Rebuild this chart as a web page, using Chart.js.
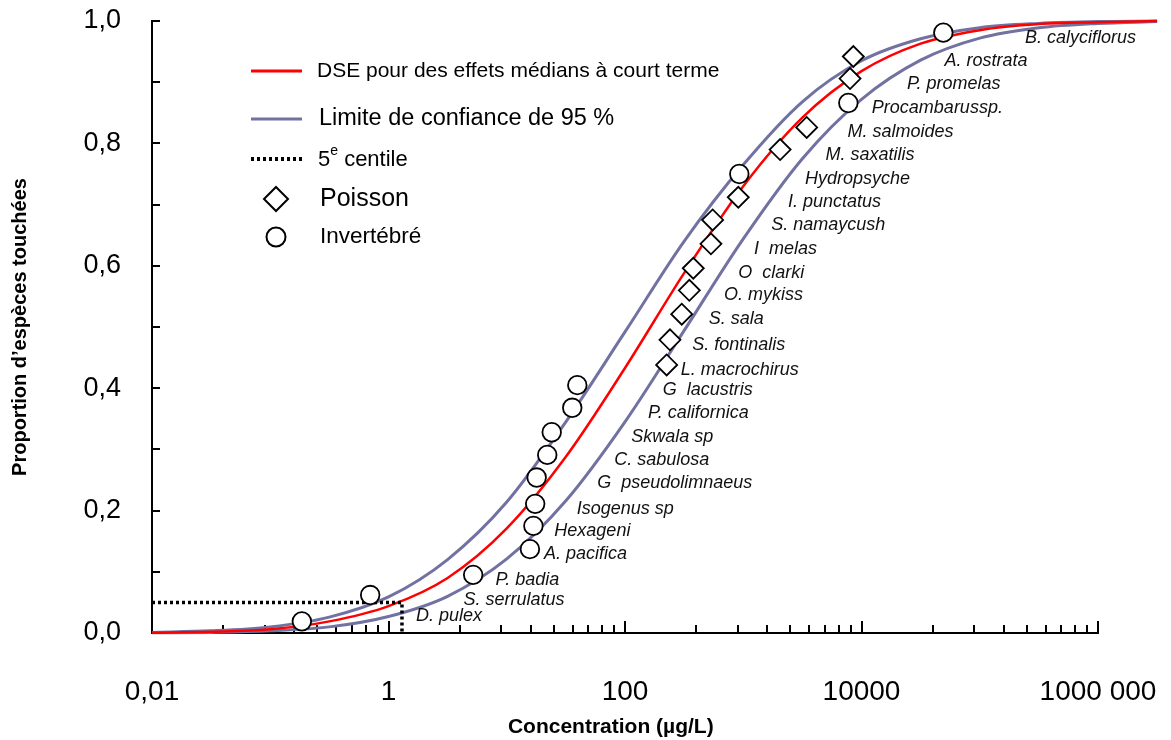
<!DOCTYPE html>
<html>
<head>
<meta charset="utf-8">
<script src="https://cdn.jsdelivr.net/npm/chart.js@4.4.0/dist/chart.umd.min.js"></script>
<style>
    html, body { margin: 0; padding: 0; background: #fff; }
    #wrap { width: 1171px; height: 740px; }
</style>
</head>
<body>
<div id="wrap"><canvas id="ssdChart" width="1171" height="740"></canvas></div>
<script>
// Fitted curves, read every half decade (ug/L)
const curveConc = [0.01, 0.0316, 0.1, 0.316, 1, 3.16, 10, 31.6, 100, 316, 1000, 3160, 10000, 31600, 100000, 316000, 1000000, 3160000];
const medianProp = [0.0005, 0.002, 0.006, 0.019, 0.044, 0.090, 0.171, 0.288, 0.433, 0.588, 0.730, 0.842, 0.918, 0.963, 0.985, 0.995, 0.998, 1.0];
const upperProp = [0.001, 0.0035, 0.010, 0.026, 0.059, 0.120, 0.214, 0.345, 0.492, 0.640, 0.765, 0.868, 0.935, 0.971, 0.989, 0.996, 0.999, 1.0];
const lowerProp = [0.0003, 0.001, 0.0035, 0.010, 0.027, 0.060, 0.121, 0.216, 0.345, 0.494, 0.644, 0.775, 0.872, 0.936, 0.972, 0.989, 0.996, 0.999];

// 5th percentile
const hc5Conc = 1.3;
const hc5Prop = 0.05;

// Species toxicity values
const speciesNames = ['D. pulex', 'S. serrulatus', 'P. badia', 'A. pacifica', 'Hexageni', 'Isogenus sp', 'G  pseudolimnaeus',
    'C. sabulosa', 'Skwala sp', 'P. californica', 'G  lacustris', 'L. macrochirus', 'S. fontinalis', 'S. sala', 'O. mykiss',
    'O  clarki', 'I  melas', 'S. namaycush', 'I. punctatus', 'Hydropsyche', 'M. saxatilis', 'M. salmoides', 'Procambarussp.',
    'P. promelas', 'A. rostrata', 'B. calyciflorus'];
const speciesConc = [0.185, 0.70, 5.2, 15.7, 16.8, 17.4, 17.9, 22, 24, 35.8, 39.5, 225, 240, 302, 350, 378, 533, 551, 908, 926, 2050, 3440, 7740, 8000, 8530, 49200];
const speciesProp = [0.019, 0.062, 0.095, 0.137, 0.175, 0.211, 0.254, 0.291, 0.328, 0.368, 0.405, 0.438, 0.479, 0.521, 0.560, 0.596, 0.636, 0.675, 0.712, 0.750, 0.790, 0.826, 0.866, 0.906, 0.942, 0.981];
const speciesGroup = ['I', 'I', 'I', 'I', 'I', 'I', 'I', 'I', 'I', 'I', 'I', 'F', 'F', 'F', 'F', 'F', 'F', 'F', 'F', 'I', 'F', 'F', 'I', 'F', 'F', 'I'];

// Axis ticks
const xTickValues = [0.01, 1, 100, 10000, 1000000];
const xTickLabels = ['0,01', '1', '100', '10000', '1000 000'];
const yTickValues = [0, 0.1, 0.2, 0.3, 0.4, 0.5, 0.6, 0.7, 0.8, 0.9, 1.0];

const RED = '#ff0000';
const BLUE = '#7171a2';
const FONT = "'Liberation Sans', Arial, sans-serif";

const toXY = (xs, ys) => xs.map((x, i) => ({ x: x, y: ys[i] }));
const pickGroup = g => speciesConc.map((c, i) => ({ x: c, y: speciesProp[i], g: speciesGroup[i] })).filter(p => p.g === g);

// Excel-style minor marks: k^2 steps inside each 100x major interval
function xTicks() {
    const out = [];
    xTickValues.forEach((m, i) => {
        out.push({ value: m });
        if (i < xTickValues.length - 1) for (let k = 2; k <= 9; k++) out.push({ value: m * k * k });
    });
    return out;
}

const LOWER_IDX = 4;

const extras = {
    id: 'extras',
    beforeDatasetsDraw(chart) {
        const { ctx, chartArea: a, scales: { x, y } } = chart;
        ctx.save();
        ctx.strokeStyle = '#000';
        ctx.lineWidth = 2;
        x.ticks.forEach(t => {
            const px = Math.round(x.getPixelForValue(t.value));
            const len = xTickValues.includes(t.value) ? 12 : 8;
            ctx.beginPath(); ctx.moveTo(px, a.bottom); ctx.lineTo(px, a.bottom - len); ctx.stroke();
        });
        y.ticks.forEach(t => {
            const py = Math.round(y.getPixelForValue(t.value));
            ctx.beginPath(); ctx.moveTo(a.left, py); ctx.lineTo(a.left + 8, py); ctx.stroke();
        });
        ctx.restore();
    },
    afterDraw(chart) {
        const { ctx, chartArea: a, scales: { x, y } } = chart;
        const lower = chart.getDatasetMeta(LOWER_IDX).data;
        const hc5Px = x.getPixelForValue(hc5Conc);

        // px of the lower limit curve at a given pixel height
        const lowerAt = py => {
            for (let i = 1; i < lower.length; i++) {
                const p0 = lower[i - 1], p1 = lower[i];
                if (p0.y >= py && p1.y <= py) {
                    const f = (p0.y - py) / (p0.y - p1.y || 1);
                    return p0.x + f * (p1.x - p0.x);
                }
            }
            return lower[lower.length - 1].x;
        };

        // species names, stacked just right of the lower limit
        ctx.save();
        ctx.fillStyle = '#111';
        ctx.font = 'italic 18px ' + FONT;
        ctx.textBaseline = 'middle';
        speciesNames.forEach((name, i) => {
            const py = y.getPixelForValue(speciesProp[i]);
            const px = x.getPixelForValue(speciesConc[i]);
            let lx = Math.max(px, lowerAt(py)) + 14;
            if (i === 0) lx = Math.max(lx, hc5Px + 14);
            const ly = Math.min(py + 5, a.bottom - 17);   // keep clear of the tick marks
            ctx.fillText(name, lx, ly);
        });
        ctx.restore();

        // x axis title
        ctx.save();
        ctx.fillStyle = '#000';
        ctx.font = 'bold 21px ' + FONT;
        ctx.textAlign = 'center';
        ctx.textBaseline = 'middle';
        ctx.fillText('Concentration (µg/L)', a.left + (a.right - a.left) * 0.485, 727);
        ctx.restore();

        // legend
        ctx.save();
        ctx.textBaseline = 'middle';
        ctx.fillStyle = '#000';
        const l0 = 251, l1 = 302;
        const line = (yy, color, w, dash) => {
            ctx.beginPath();
            ctx.setLineDash(dash || []);
            ctx.strokeStyle = color; ctx.lineWidth = w;
            ctx.moveTo(l0, yy); ctx.lineTo(l1, yy); ctx.stroke();
            ctx.setLineDash([]);
        };
        line(71, RED, 3);
        ctx.font = '21px ' + FONT;
        ctx.fillText('DSE pour des effets médians à court terme', 317, 71);

        line(119, BLUE, 3);
        ctx.font = '23.5px ' + FONT;
        ctx.fillText('Limite de confiance de 95 %', 319, 119);

        line(159, '#000', 4, [3, 3]);
        ctx.font = '22px ' + FONT;
        ctx.fillText('5', 318, 160);
        const w5 = ctx.measureText('5').width;
        ctx.font = '14px ' + FONT;
        ctx.fillText('e', 318 + w5, 151);
        const we = ctx.measureText('e').width;
        ctx.font = '22px ' + FONT;
        ctx.fillText(' centile', 318 + w5 + we, 160);

        // markers
        ctx.lineWidth = 2;
        ctx.strokeStyle = '#000';
        ctx.fillStyle = '#fff';
        ctx.beginPath();
        ctx.moveTo(276, 187); ctx.lineTo(288, 199); ctx.lineTo(276, 211); ctx.lineTo(264, 199); ctx.closePath();
        ctx.fill(); ctx.stroke();
        ctx.beginPath();
        ctx.arc(276, 237, 9.5, 0, Math.PI * 2);
        ctx.fill(); ctx.stroke();

        ctx.fillStyle = '#000';
        ctx.font = '25px ' + FONT;
        ctx.fillText('Poisson', 320, 199);
        ctx.font = '22.5px ' + FONT;
        ctx.fillText('Invertébré', 320, 237);
        ctx.restore();
    }
};

const ctx = document.getElementById('ssdChart').getContext('2d');
new Chart(ctx, {
    type: 'line',
    data: {
        datasets: [
            {
                label: 'Poisson', data: pickGroup('F'), showLine: false, order: 0,
                pointStyle: 'rectRot', pointRadius: 10.5, pointBackgroundColor: '#fff', pointBorderColor: '#000', pointBorderWidth: 1.8, clip: false
            },
            {
                label: 'Invertébré', data: pickGroup('I'), showLine: false, order: 0,
                pointStyle: 'circle', pointRadius: 9.3, pointBackgroundColor: '#fff', pointBorderColor: '#000', pointBorderWidth: 1.8, clip: false
            },
            {
                label: '5e centile', data: [{ x: xTickValues[0], y: hc5Prop }, { x: hc5Conc, y: hc5Prop }, { x: hc5Conc, y: 0 }], order: 1,
                borderColor: '#000', borderWidth: 3.5, borderDash: [3, 3], pointRadius: 0, tension: 0
            },
            {
                label: 'DSE', data: toXY(curveConc, medianProp), order: 2, clip: false,
                borderColor: RED, borderWidth: 2.5, pointRadius: 0, cubicInterpolationMode: 'monotone'
            },
            {
                label: 'Limite inf', data: toXY(curveConc, lowerProp), order: 3, clip: false,
                borderColor: BLUE, borderWidth: 3, pointRadius: 0, cubicInterpolationMode: 'monotone'
            },
            {
                label: 'Limite sup', data: toXY(curveConc, upperProp), order: 3, clip: false,
                borderColor: BLUE, borderWidth: 3, pointRadius: 0, cubicInterpolationMode: 'monotone'
            }
        ]
    },
    options: {
        responsive: false,
        animation: false,
        layout: { padding: { top: 21, right: 73, left: 0, bottom: 0 } },
        plugins: { legend: { display: false }, tooltip: { enabled: false } },
        scales: {
            x: {
                type: 'logarithmic', bounds: 'data',
                // axis range set here (not via min/max) so the curves can run past the last tick like the original
                afterDataLimits: axis => { axis.min = xTickValues[0]; axis.max = xTickValues[xTickValues.length - 1]; },
                afterBuildTicks: axis => { axis.ticks = xTicks(); },
                afterFit: axis => { axis.height = 107; axis.paddingLeft = 0; axis.paddingRight = 0; },
                grid: { display: false, drawTicks: false },
                border: { display: true, color: '#000', width: 2 },
                ticks: {
                    autoSkip: false, maxRotation: 0, padding: 42, color: '#000',
                    font: { family: FONT, size: 28 },
                    callback: v => { const i = xTickValues.indexOf(v); return i >= 0 ? xTickLabels[i] : ''; }
                },
                title: { display: false }
            },
            y: {
                min: 0, max: 1,
                afterBuildTicks: axis => { axis.ticks = yTickValues.map(v => ({ value: v })); },
                afterFit: axis => { axis.width = 152; axis.paddingTop = 0; axis.paddingBottom = 0; },
                grid: { display: false, drawTicks: false },
                border: { display: true, color: '#000', width: 2 },
                ticks: {
                    autoSkip: false, padding: 31, color: '#000',
                    font: { family: FONT, size: 27 },
                    callback: v => Math.round(v * 10) % 2 === 0 ? v.toFixed(1).replace('.', ',') : ''
                },
                title: { display: true, text: 'Proportion d’espèces touchées', color: '#000', padding: { top: 8, bottom: 0 }, font: { family: FONT, size: 20, weight: 'bold' } }
            }
        }
    },
    plugins: [extras]
});
</script>
</body>
</html>
